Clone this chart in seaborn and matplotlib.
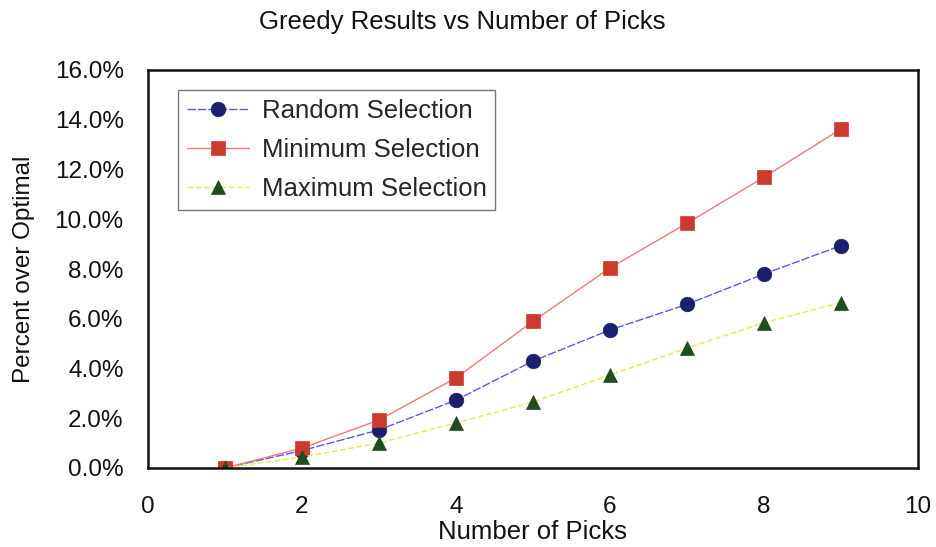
import matplotlib
matplotlib.use("Agg")
import matplotlib.pyplot as plt
from matplotlib.ticker import FuncFormatter, MultipleLocator
import seaborn as sns
import pandas as pd

picks = [1, 2, 3, 4, 5, 6, 7, 8, 9]
random_sel = [0.0, 0.7, 1.53, 2.73, 4.3, 5.55, 6.58, 7.8, 8.94]
minimum_sel = [0.0, 0.8, 1.93, 3.62, 5.9, 8.04, 9.84, 11.69, 13.63]
maximum_sel = [0.0, 0.44, 1.0, 1.81, 2.65, 3.74, 4.82, 5.84, 6.65]

series_names = ["Random Selection", "Minimum Selection", "Maximum Selection"]
series_values = [random_sel, minimum_sel, maximum_sel]

sns.set_style("white")
plt.rcParams["font.family"] = ["Liberation Sans", "DejaVu Sans"]

df = pd.concat(
    [pd.DataFrame({"picks": picks, "pct": vals, "series": name})
     for name, vals in zip(series_names, series_values)],
    ignore_index=True,
)

styles = {
    "Random Selection": dict(line="#5a5ae0", marker="o", mfc="#1c1f6e", ms=10.5, ls=(0, (6, 1.5))),
    "Minimum Selection": dict(line="#f07a7a", marker="s", mfc="#cc3a2e", ms=10, ls="-"),
    "Maximum Selection": dict(line="#e8e84a", marker="^", mfc="#1f4d1c", ms=10.5, ls=(0, (4, 2))),
}

fig = plt.figure(figsize=(9.37, 5.47), dpi=100)
ax = fig.add_axes([148 / 937, 1 - 468 / 547, 770 / 937, 398 / 547])

for name in series_names:
    st = styles[name]
    sub = df[df["series"] == name]
    sns.lineplot(
        data=sub, x="picks", y="pct", ax=ax, label=name,
        color=st["line"], linewidth=1.0, linestyle=st["ls"],
        marker=st["marker"], markersize=st["ms"],
        markerfacecolor=st["mfc"], markeredgecolor=st["mfc"],
        markeredgewidth=0.5,
    )

ax.set_xlim(0, 10)
ax.set_ylim(0, 16)
ax.xaxis.set_major_locator(MultipleLocator(2))
ax.yaxis.set_major_locator(MultipleLocator(2))
ax.yaxis.set_major_formatter(FuncFormatter(lambda v, p: f"{v:.1f}%"))
ax.tick_params(direction="in", length=5, width=1, colors="#333333",
               labelsize=17.5, labelcolor="#111111")
ax.tick_params(axis="y", pad=17.5)
ax.tick_params(axis="x", pad=20)
for sp in ax.spines.values():
    sp.set_visible(True)
    sp.set_color("#111111")
    sp.set_linewidth(1.8)

ax.set_xlabel("Number of Picks", fontsize=18.5, color="#111111")
ax.set_ylabel("Percent over Optimal", fontsize=17.5, color="#111111")
ax.xaxis.set_label_coords(0.5, (468 - 520) / 398)
ax.yaxis.set_label_coords((35 - 148) / 770, 0.5)
fig.text(462 / 937, 1 - 22 / 547, "Greedy Results vs Number of Picks",
         ha="center", va="center", fontsize=18.5, color="#111111")

leg = ax.legend(loc="upper left", bbox_to_anchor=(30 / 770, 1 - 20 / 398),
                fontsize=18.5, frameon=True, fancybox=False, handlelength=2.4,
                handletextpad=0.5, labelspacing=0.58, borderpad=0.35,
                borderaxespad=0)
leg.get_frame().set_edgecolor("#555555")
leg.get_frame().set_linewidth(1.0)

fig.savefig("out.png", dpi=100, facecolor="white")
